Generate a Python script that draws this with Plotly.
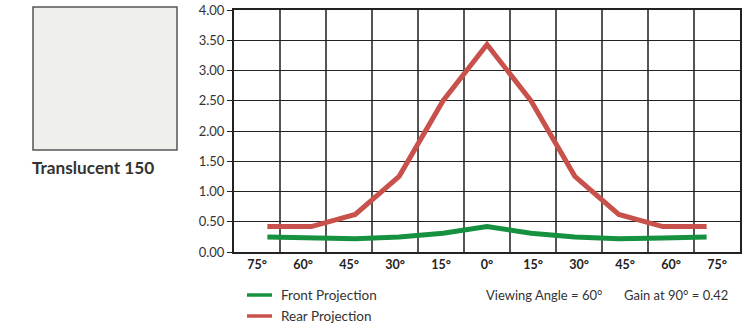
import plotly.graph_objects as go

angles = [-75, -60, -45, -30, -15, 0, 15, 30, 45, 60, 75]
tick_labels = ["75°", "60°", "45°", "30°", "15°", "0°", "15°", "30°", "45°", "60°", "75°"]
front = [0.25, 0.23, 0.22, 0.25, 0.31, 0.42, 0.31, 0.25, 0.22, 0.23, 0.25]
rear = [0.42, 0.42, 0.62, 1.25, 2.50, 3.43, 2.50, 1.25, 0.62, 0.42, 0.42]
y_ticks = [0, 0.5, 1, 1.5, 2, 2.5, 3, 3.5, 4]
series_names = ["Front Projection", "Rear Projection"]

W, H = 754, 324
L, R, T, B = 234, 14, 10, 72
pw, ph = W - L - R, H - T - B

def px(x):
    return (x - L) / pw

def py(y):
    return (H - B - y) / ph

GREEN = "#16913f"
RED = "#c8514c"
FONT = "Lato, 'Open Sans', sans-serif"

fig = go.Figure()
# data traces on the main x axis
fig.add_trace(go.Scatter(x=angles, y=front, mode="lines", name=series_names[0],
                         line=dict(color=GREEN, width=5), hoverinfo="x+y"))
fig.add_trace(go.Scatter(x=angles, y=rear, mode="lines", name=series_names[1],
                         line=dict(color=RED, width=5), hoverinfo="x+y"))
# empty trace so the labelled angle axis is drawn
fig.add_trace(go.Scatter(x=[], y=[], xaxis="x2", showlegend=False, hoverinfo="skip"))

fig.update_layout(
    width=W, height=H,
    margin=dict(l=L, r=R, t=T, b=B, autoexpand=False),
    paper_bgcolor="white", plot_bgcolor="white",
    font=dict(family=FONT, color="#333333", size=13),
    xaxis=dict(range=[-86.4, 86.4], showticklabels=False, showgrid=False,
               zeroline=False, ticks="", showline=False, fixedrange=True),
    xaxis2=dict(range=[-82.5, 82.5], overlaying="x", side="bottom",
                tickvals=angles, ticktext=tick_labels,
                showgrid=False, zeroline=False, ticks="",
                tickfont=dict(size=12.5, color="#222222", weight="bold"),
                showline=True, linecolor="#222222", linewidth=2, mirror=True,
                minor=dict(tick0=7.5, dtick=15, showgrid=True, gridcolor="#555555", gridwidth=1.5),
                fixedrange=True),
    yaxis=dict(range=[0, 4], tickvals=y_ticks, tickformat=".2f",
               showgrid=True, gridcolor="#222222", gridwidth=1.3, zeroline=False,
               ticks="outside", ticklen=5, tickcolor="#222222", tickwidth=1.3,
               showline=True, linecolor="#222222", linewidth=2, mirror=True,
               tickfont=dict(size=13, color="#333333"), fixedrange=True),
    showlegend=False,
)

# left swatch and caption
fig.add_shape(type="rect", xref="paper", yref="paper",
              x0=px(33), x1=px(177), y0=py(150), y1=py(7),
              fillcolor="#efefec", line=dict(color="#555555", width=1.5))
fig.add_annotation(xref="paper", yref="paper", x=px(93), y=py(167),
                   text="<b>Translucent 150</b>", showarrow=False,
                   font=dict(size=17.2, color="#333333"), xanchor="center", yanchor="middle")

# legend keys
for i, (name, col) in enumerate(zip(series_names, [GREEN, RED])):
    yy = 295 + 21 * i
    fig.add_shape(type="line", xref="paper", yref="paper",
                  x0=px(247), x1=px(272), y0=py(yy), y1=py(yy),
                  line=dict(color=col, width=3.5))
    fig.add_annotation(xref="paper", yref="paper", x=px(279), y=py(yy),
                       text=name, showarrow=False,
                       font=dict(size=13.5, color="#333333"), xanchor="left", yanchor="middle")

fig.add_annotation(xref="paper", yref="paper", x=px(484), y=py(295),
                   text="Viewing Angle = 60°", showarrow=False,
                   font=dict(size=13, color="#333333"), xanchor="left", yanchor="middle")
fig.add_annotation(xref="paper", yref="paper", x=px(622), y=py(295),
                   text="Gain at 90° = 0.42", showarrow=False,
                   font=dict(size=13, color="#333333"), xanchor="left", yanchor="middle")

fig.write_html("out.html",
               config={"displayModeBar": False},
               post_script="document.body.style.margin='0';document.body.style.overflow='hidden';")
